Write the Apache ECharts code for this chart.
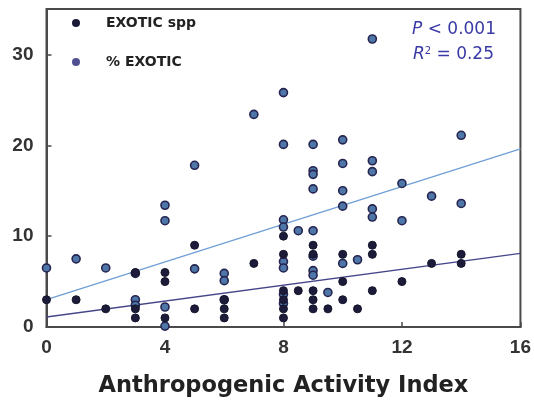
<!DOCTYPE html>
<html>
<head>
<meta charset="utf-8">
<style>
  html, body { margin: 0; padding: 0; background: #fff; }
  #chart { width: 534px; height: 404px; }
</style>
<script src="https://cdn.jsdelivr.net/npm/echarts@6/dist/echarts.min.js"></script>
</head>
<body>
<div id="chart"></div>
<script>
// Number of exotic species per site vs. anthropogenic activity index
const exoticSpp = [
  [0, 3], [1, 3], [2, 2], [3, 6], [3, 2], [3, 1], [4, 6], [4, 5], [4, 1],
  [5, 9], [5, 2], [6, 3], [6, 2], [6, 1], [7, 7],
  [8, 10], [8, 8], [8, 4], [8, 3], [8, 2], [8, 1], [8.5, 4],
  [9, 9], [9, 8], [9, 4], [9, 3], [9, 2], [9.5, 2],
  [10, 8], [10, 5], [10, 3], [10.5, 2], [11, 9], [11, 8], [11, 4],
  [12, 5], [13, 7], [14, 8], [14, 7]
];

// Percentage of exotic species per site
const pctExotic = [
  [0, 6.5], [1, 7.5], [2, 6.5], [3, 5.9], [3, 3.0], [3, 2.4],
  [4, 13.4], [4, 11.7], [4, 2.2], [4, 0.1], [5, 17.8], [5, 6.4],
  [6, 5.9], [6, 5.1], [6, 3.0], [7, 23.4],
  [8, 25.8], [8, 20.1], [8, 11.8], [8, 11.0], [8, 7.2], [8, 6.5], [8, 3.6], [8, 2.6],
  [8.5, 10.6], [9, 20.1], [9, 17.2], [9, 16.8], [9, 15.2], [9, 10.6], [9, 7.8], [9, 6.2], [9, 5.7],
  [9.5, 3.8], [10, 20.6], [10, 18.0], [10, 15.0], [10, 13.3], [10, 7.0], [10.5, 7.4],
  [11, 31.7], [11, 18.3], [11, 17.1], [11, 13.0], [11, 12.1],
  [12, 15.8], [12, 11.7], [13, 14.4], [14, 21.1], [14, 13.6]
];

// Least-squares fit lines (end points over the axis range)
const pctFit = [[0, 3.0], [16, 19.6]];
const sppFit = [[0, 1.1], [16, 8.1]];

const xTicks = [0, 4, 8, 12, 16];
const yTicks = [0, 10, 20, 30];

const sppName = 'EXOTIC spp';
const pctName = '% EXOTIC';
const xTitle = 'Anthropogenic Activity Index';
const statP = '{i|P} < 0.001';
const statR = '{i|R}{s|2} = 0.25';

const chart = echarts.init(document.getElementById('chart'), null, { renderer: 'canvas' });
const frame = '#4a4a4a';
const armFont = '"Liberation Sans", Arial, sans-serif';
const wideFont = '"DejaVu Sans", sans-serif';
const statColor = '#3a3aa6';

chart.setOption({
  animation: false,
  backgroundColor: '#ffffff',
  grid: {
    left: 46.5, right: 13, top: 9, bottom: 77,
    show: true, borderColor: frame, borderWidth: 2, backgroundColor: 'transparent'
  },
  legend: {
    orient: 'vertical',
    left: 67, top: 11,
    itemGap: 25,
    itemWidth: 8, itemHeight: 8,
    icon: 'circle',
    textStyle: {
      fontFamily: wideFont, fontWeight: 'bold', fontSize: 14, color: '#222',
      padding: [0, 0, 0, 21]
    },
    data: [
      { name: sppName, itemStyle: { color: '#1a1a36', borderWidth: 0 } },
      { name: pctName, itemStyle: { color: '#505090', borderWidth: 0 } }
    ]
  },
  xAxis: {
    type: 'value',
    min: xTicks[0], max: xTicks[xTicks.length - 1], interval: 4,
    name: xTitle,
    nameLocation: 'middle',
    nameGap: 48,
    nameTextStyle: { fontFamily: wideFont, fontWeight: 'bold', fontSize: 22.5, color: '#222' },
    axisLine: { show: true, lineStyle: { color: frame, width: 2 } },
    axisTick: { show: true, inside: true, length: 5, lineStyle: { color: frame, width: 1.5 } },
    axisLabel: { fontFamily: armFont, fontWeight: 'bold', fontSize: 19, color: '#333', margin: 11 },
    splitLine: { show: false }
  },
  yAxis: {
    type: 'value',
    min: yTicks[0], max: 35, interval: 10,
    axisLine: { show: true, lineStyle: { color: frame, width: 2 } },
    axisTick: { show: true, inside: true, length: 5, lineStyle: { color: frame, width: 1.5 } },
    axisLabel: {
      fontFamily: armFont, fontWeight: 'bold', fontSize: 19, color: '#333', margin: 13,
      showMaxLabel: false,
      formatter: v => (yTicks.indexOf(v) >= 0 ? String(v) : '')
    },
    splitLine: { show: false }
  },
  series: [
    {
      name: 'pctFit', type: 'line', data: pctFit, symbol: 'none', silent: true,
      lineStyle: { color: '#6f9fd6', width: 1.3 }, z: 1
    },
    {
      name: 'sppFit', type: 'line', data: sppFit, symbol: 'none', silent: true,
      lineStyle: { color: '#45458a', width: 1.3 }, z: 1
    },
    {
      name: pctName, type: 'scatter', data: pctExotic, symbolSize: 8,
      itemStyle: { color: '#4f76a8', borderColor: '#252550', borderWidth: 1.6, opacity: 1 },
      z: 2
    },
    {
      name: sppName, type: 'scatter', data: exoticSpp, symbolSize: 8,
      itemStyle: { color: '#1c1c3a', borderColor: '#15152c', borderWidth: 1, opacity: 1 },
      z: 3
    }
  ],
  graphic: [
    {
      type: 'text', right: 38, top: 21,
      style: {
        text: statP, fill: statColor, font: '17px ' + wideFont, textAlign: 'right',
        rich: { i: { fontStyle: 'italic', fontSize: 17, fill: statColor, fontFamily: wideFont } }
      }
    },
    {
      type: 'text', right: 40, top: 46,
      style: {
        text: statR, fill: statColor, font: '17px ' + wideFont, textAlign: 'right',
        rich: {
          i: { fontStyle: 'italic', fontSize: 17, fill: statColor, fontFamily: wideFont },
          s: { fontSize: 10, fill: statColor, fontFamily: wideFont, verticalAlign: 'top', padding: [0, 0, 8, 0] }
        }
      }
    }
  ]
});
</script>
</body>
</html>
